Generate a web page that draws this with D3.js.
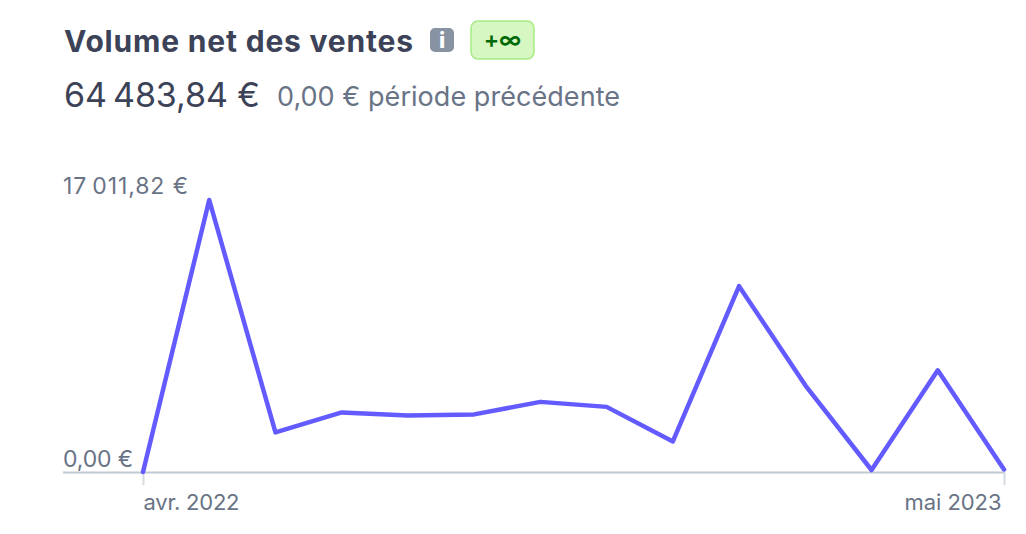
<!DOCTYPE html>
<html lang="fr">
<head>
<meta charset="utf-8">
<script src="https://d3js.org/d3.v7.min.js"></script>
<style>
    html, body { margin: 0; padding: 0; background: #fff; }
    svg { display: block; font-family: Inter, "Noto Sans", sans-serif; }
</style>
</head>
<body>
<div id="chart"></div>
<script>
// Data
const months = ["avr. 2022", "mai 2022", "juin 2022", "juil. 2022", "août 2022", "sept. 2022", "oct. 2022",
    "nov. 2022", "déc. 2022", "janv. 2023", "févr. 2023", "mars 2023", "avr. 2023", "mai 2023"];
const sales = [0, 17011.82, 2475, 3728, 3540, 3603, 4386, 4073, 1911, 11623, 5420, 125, 6360, 157];
const xTickLabels = ["avr. 2022", "mai 2023"];
const yTickValues = [0, 17011.82];
const yTickLabels = ["0,00 €", "17\u2009011,82 €"];

const chartTitle = "Volume net des ventes";
const badgeLabel = "+∞";
const totalLabel = "64\u2009483,84 €";
const previousLabel = "0,00 € période précédente";

const svgWidth = 1026, svgHeight = 534;
const margin = { left: 143, right: 22, top: 200, bottom: 62 };

const svg = d3.select("#chart")
    .append("svg")
    .attr("width", svgWidth)
    .attr("height", svgHeight);

// Scales
const x = d3.scalePoint().domain(months).range([margin.left, svgWidth - margin.right]);
const y = d3.scaleLinear().domain([0, 17011.82]).range([svgHeight - margin.bottom, margin.top]);

// Header
svg.append("text")
    .attr("x", 64).attr("y", 52)
    .attr("font-size", 30).attr("font-weight", 700)
    .attr("fill", "#3c4257")
    .attr("textLength", 349)
    .text(chartTitle);

// Info icon
svg.append("rect")
    .attr("x", 430).attr("y", 28)
    .attr("width", 24).attr("height", 24).attr("rx", 5)
    .attr("fill", "#8792a2");
svg.append("text")
    .attr("x", 442).attr("y", 48)
    .attr("text-anchor", "middle")
    .attr("font-size", 22).attr("font-weight", 800)
    .attr("fill", "#fff")
    .text("i");

// Trend badge
svg.append("rect")
    .attr("x", 471).attr("y", 21)
    .attr("width", 63).attr("height", 38).attr("rx", 7)
    .attr("fill", "#d7f7c2")
    .attr("stroke", "#a6eb84").attr("stroke-width", 1.5);
svg.append("text")
    .attr("x", 502.5).attr("y", 48)
    .attr("text-anchor", "middle")
    .attr("font-size", 23).attr("font-weight", 600)
    .attr("fill", "#006908")
    .text(badgeLabel);

svg.append("text")
    .attr("x", 64).attr("y", 107)
    .attr("font-size", 34)
    .attr("fill", "#3c4257")
    .attr("textLength", 196)
    .text(totalLabel);

svg.append("text")
    .attr("x", 277).attr("y", 106)
    .attr("font-size", 27)
    .attr("fill", "#697386")
    .attr("textLength", 343)
    .text(previousLabel);

// x axis, only first and last month carry a tick
const baseY = svgHeight - margin.bottom;
const xAxis = d3.axisBottom(x).tickValues(xTickLabels).tickSize(13).tickSizeOuter(0);
const xG = svg.append("g")
    .attr("transform", "translate(0," + baseY + ")")
    .call(xAxis);
xG.select(".domain").remove();
xG.selectAll("line").attr("stroke", "#d5dbe1").attr("stroke-width", 2);
xG.selectAll("text")
    .attr("y", 38).attr("dy", 0)
    .attr("font-family", "Inter, sans-serif")
    .attr("font-size", 22)
    .attr("fill", "#697386")
    .attr("textLength", (d, i) => i === 0 ? 96 : 97)
    .style("text-anchor", (d, i) => i === 0 ? "start" : "end")
    .attr("dx", (d, i) => i === 0 ? 0 : -3);

// Baseline
svg.append("line")
    .attr("x1", 63).attr("x2", svgWidth - margin.right)
    .attr("y1", baseY + 0.5).attr("y2", baseY + 0.5)
    .attr("stroke", "#c1c9d2").attr("stroke-width", 2);

// y labels sit just above their value
const yG = svg.append("g");
yG.selectAll("text")
    .data(yTickValues)
    .join("text")
    .attr("x", 63)
    .attr("y", d => d === 0 ? y(d) - 5 : y(d) - 6)
    .attr("font-size", 23)
    .attr("fill", "#697386")
    .attr("textLength", (d, i) => i === 0 ? 70 : 125)
    .text((d, i) => yTickLabels[i]);

// Sales line
const line = d3.line()
    .x((d, i) => x(months[i]))
    .y(d => y(d));

svg.append("path")
    .datum(sales)
    .attr("d", line)
    .attr("fill", "none")
    .attr("stroke", "#635bff")
    .attr("stroke-width", 4.5)
    .attr("stroke-linejoin", "round")
    .attr("stroke-linecap", "round");
</script>
</body>
</html>
